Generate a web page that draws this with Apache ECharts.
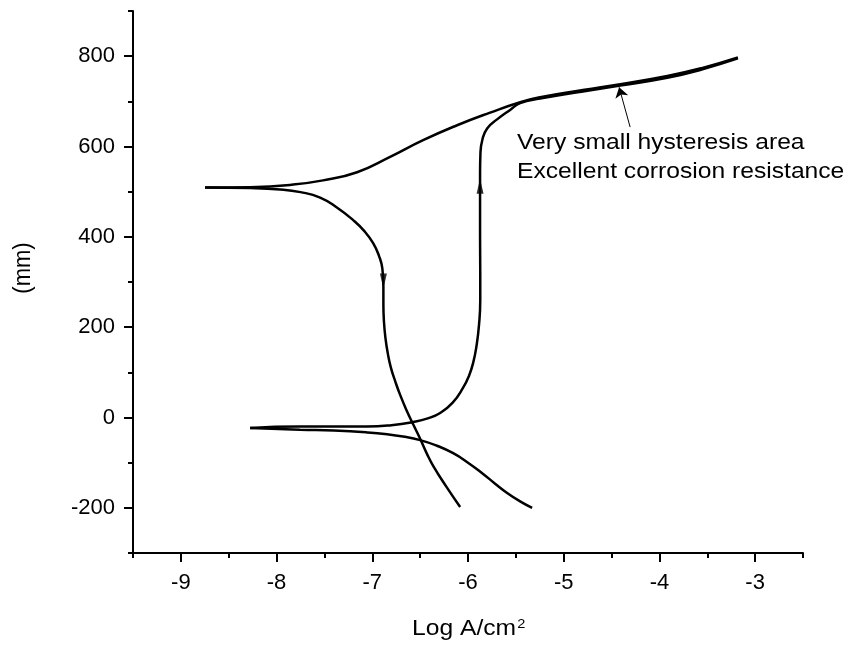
<!DOCTYPE html>
<html><head><meta charset="utf-8">
<script src="https://cdn.jsdelivr.net/npm/echarts@6/dist/echarts.min.js"></script>
<style>html,body{margin:0;padding:0;background:#fff}#c{width:852px;height:650px}</style>
</head><body><div id="c"></div>
<script>
// Tick values
const xTicks = [-9, -8, -7, -6, -5, -4, -3];
const yTicks = [-200, 0, 200, 400, 600, 800];

// Forward scan, cathodic branch: from -200 mV up to corrosion potential
const forwardCathodic = [[-5.330,-200],[-5.460,-185],[-5.591,-167],[-5.720,-146],[-5.842,-125],[-6.000,-100],[-6.155,-79],[-6.330,-62],[-6.500,-50],[-6.680,-42],[-6.845,-37],[-7.054,-33],[-7.400,-29],[-7.754,-27],[-8.276,-23]];
// Forward scan, anodic branch: from corrosion potential up to vertex
const forwardAnodic = [[-8.276,-23],[-7.754,-20],[-7.054,-20],[-6.800,-17],[-6.573,-10],[-6.420,-2],[-6.291,10],[-6.160,33],[-6.051,66],[-5.990,92],[-5.945,122],[-5.910,160],[-5.885,205],[-5.872,260],[-5.872,320],[-5.874,400],[-5.874,470],[-5.874,540],[-5.870,585],[-5.850,615],[-5.800,640],[-5.696,660],[-5.560,681],[-5.455,696],[-5.247,706],[-4.800,722],[-4.409,735],[-3.918,752],[-3.550,771],[-3.180,795]];
// Reverse scan: from vertex down to the reverse zero-current potential
const reverseUpper = [[-3.180,797],[-3.550,774],[-3.918,756],[-4.409,738],[-4.800,725],[-5.247,709],[-5.455,698],[-5.769,675],[-6.114,647],[-6.469,614],[-6.814,577],[-7.159,543],[-7.514,525],[-7.859,515],[-8.276,510],[-8.747,509]];
// Reverse scan continued: cathodic part down to -200 mV
const reverseLower = [[-8.747,509],[-8.276,508],[-7.963,505],[-7.750,499],[-7.545,487],[-7.370,465],[-7.200,437],[-7.080,412],[-6.991,386],[-6.930,358],[-6.895,330],[-6.884,290],[-6.884,250],[-6.878,212],[-6.862,175],[-6.838,142],[-6.805,110],[-6.760,80],[-6.709,50],[-6.640,15],[-6.573,-15],[-6.500,-47],[-6.430,-80],[-6.364,-107],[-6.230,-152],[-6.082,-198]];

// Direction arrows on the curves
const arrowUp = [[-5.874, 512]];
const arrowDown = [[-6.884, 302]];
// Annotation pointer (from text to curve)
const annotArrow = [[-4.306, 643], [-4.421, 731]];
const annotLines = ['Very small hysteresis area', 'Excellent corrosion resistance'];

const FONT = 'Liberation Sans, Arial, sans-serif';
const black = '#000';
const gridBox = {left: 133, right: 49, top: 11, bottom: 97};

function lineSeries(data) {
  return {
    type: 'line', xAxisIndex: 0, yAxisIndex: 0, data: data,
    symbol: 'none', showSymbol: false, smooth: 0.5,
    lineStyle: {color: black, width: 2.5}, z: 3, silent: true
  };
}

const chart = echarts.init(document.getElementById('c'), null, {renderer: 'canvas'});
chart.setOption({
  animation: false,
  backgroundColor: '#fff',
  grid: [Object.assign({}, gridBox), Object.assign({}, gridBox)],
  xAxis: [
    {gridIndex: 0, type: 'value', min: -9.5, max: -2.5, interval: 0.5,
     axisLine: {onZero: false, lineStyle: {color: black, width: 2}},
     axisTick: {inside: false, length: 5, lineStyle: {color: black, width: 2}},
     axisLabel: {margin: 19, fontSize: 22, color: black, fontFamily: FONT,
       formatter: v => Number.isInteger(v) ? String(v) : ''},
     splitLine: {show: false}},
    {gridIndex: 1, type: 'value', min: -9.5, max: -2.5, interval: 0.5, position: 'bottom',
     axisLine: {show: false, onZero: false},
     axisTick: {inside: false, length: 9, customValues: xTicks, lineStyle: {color: black, width: 2}},
     axisLabel: {show: false}, splitLine: {show: false}}
  ],
  yAxis: [
    {gridIndex: 0, type: 'value', min: -300, max: 900, interval: 100,
     axisLine: {show: true, onZero: false, lineStyle: {color: black, width: 2}},
     axisTick: {show: true, inside: false, length: 5, lineStyle: {color: black, width: 2}},
     axisLabel: {margin: 18, fontSize: 22, color: black, fontFamily: FONT,
       formatter: v => (v % 200 === 0) ? String(v) : ''},
     splitLine: {show: false}},
    {gridIndex: 1, type: 'value', min: -300, max: 900, interval: 100, position: 'left',
     axisLine: {show: false, onZero: false},
     axisTick: {show: true, inside: false, length: 9, customValues: yTicks, lineStyle: {color: black, width: 2}},
     axisLabel: {show: false}, splitLine: {show: false}}
  ],
  series: [
    lineSeries(forwardCathodic),
    lineSeries(forwardAnodic),
    lineSeries(reverseUpper),
    lineSeries(reverseLower),
    {type: 'scatter', xAxisIndex: 0, yAxisIndex: 0, data: arrowUp, symbol: 'triangle',
     symbolSize: [7, 15], itemStyle: {color: black}, z: 4, silent: true},
    {type: 'scatter', xAxisIndex: 0, yAxisIndex: 0, data: arrowDown, symbol: 'triangle',
     symbolSize: [7, 15], symbolRotate: 180, itemStyle: {color: black}, z: 4, silent: true},
    {type: 'lines', coordinateSystem: 'cartesian2d', xAxisIndex: 0, yAxisIndex: 0,
     data: [{coords: annotArrow}], symbol: ['none', 'arrow'], symbolSize: 10,
     lineStyle: {color: black, width: 1, opacity: 1}, z: 4, silent: true}
  ],
  graphic: [
    {type: 'text', x: 517, y: 143, scaleX: 1.12, silent: true,
     style: {text: annotLines[0], font: '22px ' + FONT, fill: black, textAlign: 'left', textVerticalAlign: 'middle'}},
    {type: 'text', x: 517, y: 172, scaleX: 1.12, silent: true,
     style: {text: annotLines[1], font: '22px ' + FONT, fill: black, textAlign: 'left', textVerticalAlign: 'middle'}},
    {type: 'text', x: 412, y: 629, scaleX: 1.12, silent: true,
     style: {text: '{a|Log A/cm}{b|2}', textAlign: 'left', textVerticalAlign: 'middle',
       rich: {a: {fontSize: 22, fontFamily: FONT, color: black},
              b: {fontSize: 13, fontFamily: FONT, color: black, verticalAlign: 'top', padding: [0, 0, 10, 1]}}}},
    {type: 'text', x: 23, y: 268, rotation: Math.PI / 2, scaleY: 1.1, silent: true,
     style: {text: '(mm)', font: '22px ' + FONT, fill: black, textAlign: 'center', textVerticalAlign: 'middle'}}
  ]
});
</script>
</body></html>
